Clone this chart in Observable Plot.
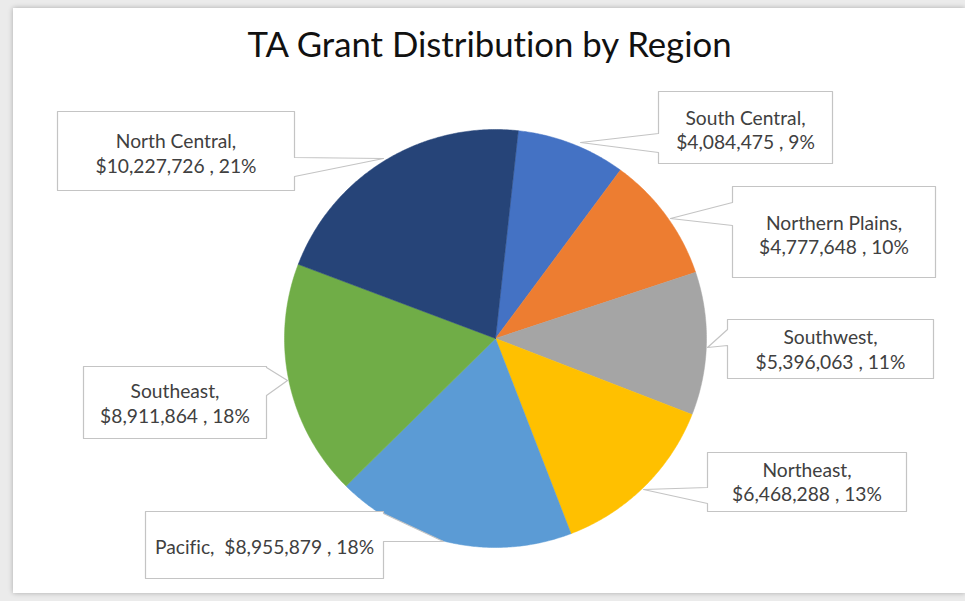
<!DOCTYPE html>
<html>
<head>
<meta charset="utf-8">
<script src="https://cdn.jsdelivr.net/npm/d3@7"></script>
<script src="https://cdn.jsdelivr.net/npm/@observablehq/plot@0.6"></script>
<style>
html, body { margin: 0; padding: 0; width: 965px; height: 601px; overflow: hidden; background: #ebebeb; font-family: Lato, "Open Sans", sans-serif; font-variant-ligatures: none; }
#card { position: absolute; left: 13px; top: 8px; width: 952px; height: 585px; background: #fff; box-shadow: 0 0 5px rgba(0,0,0,0.28); }
#title { position: absolute; left: 0; width: 979px; text-align: center; color: #111; font-family: Lato, sans-serif; white-space: nowrap; font-variant-ligatures: none; }
#chart { position: absolute; left: 0; top: 80px; }
#chart text { font-variant-ligatures: none; }
</style>
</head>
<body>
<div id="card"></div>
<div id="title"></div>
<div id="chart"></div>
<script>
// ---- data ----
const regions  = ["South Central", "Northern Plains", "Southwest", "Northeast", "Pacific", "Southeast", "North Central"];
const grants   = [4084475, 4777648, 5396063, 6468288, 8955879, 8911864, 10227726];
const percents = [9, 10, 11, 13, 18, 18, 21];
const colors   = ["#4472C4", "#ED7D31", "#A5A5A5", "#FFC000", "#5B9BD5", "#70AD47", "#264478"];
const chartTitle = "TA Grant Distribution by Region";

// ---- layout (page pixel coordinates) ----
const pie = {cx: 495, cy: 338, rx: 211, ry: 209, startDeg: 6.2};
const callouts = {
  "South Central":   {box: [658, 832, 91, 163],  side: "left",  base: [133, 152], tip: [580, 142], lines: [124.5, 148]},
  "Northern Plains": {box: [732, 935, 186, 277], side: "left",  base: [202, 225], tip: [670, 218], lines: [229, 253]},
  "Southwest":       {box: [727, 933, 319, 378], side: "left",  base: [329, 345], tip: [707, 347], lines: [343, 368]},
  "Northeast":       {box: [707, 906, 452, 511], side: "left",  base: [487, 503], tip: [643, 489], lines: [476, 500]},
  "Pacific":         {box: [145, 383, 511, 578], side: "right", base: [513, 541], tip: [443, 541], lines: [553]},
  "Southeast":       {box: [83, 266, 366, 438],  side: "right", base: [367, 395], tip: [287, 380], lines: [397, 422]},
  "North Central":   {box: [57, 294, 111, 190],  side: "right", base: [157, 176], tip: [383, 158], lines: [147, 172]}
};
const SVG_TOP = 80, W = 965, H = 601;

// ---- font fitting ----
const ctx = document.createElement("canvas").getContext("2d");
function fitSize(text, family, target) {
  ctx.font = `100px ${family}`;
  return 100 * target / ctx.measureText(text).width;
}
const fmt = d3.format("$,");
const labelFont = fitSize(fmt(grants[6]) + " , " + percents[6] + "%", "Lato", 161);
const titleFont = fitSize(chartTitle, "Lato", 487);

const titleEl = document.getElementById("title");
titleEl.textContent = chartTitle;
titleEl.style.fontSize = titleFont + "px";
titleEl.style.lineHeight = titleFont + "px";
titleEl.style.top = (58 - 0.887 * titleFont) + "px";

// ---- pie geometry from values ----
const total = d3.sum(grants);
const slices = [];
let acc = 0;
regions.forEach((r, i) => {
  const a0 = (pie.startDeg + 360 * acc / total) * Math.PI / 180;
  acc += grants[i];
  const a1 = (pie.startDeg + 360 * acc / total) * Math.PI / 180;
  const n = Math.max(2, Math.ceil((a1 - a0) / (Math.PI / 360)));
  slices.push({region: r, x: pie.cx, y: pie.cy});
  for (let k = 0; k <= n; k++) {
    const a = a0 + (a1 - a0) * k / n;
    slices.push({region: r, x: pie.cx + pie.rx * Math.sin(a), y: pie.cy - pie.ry * Math.cos(a)});
  }
  slices.push({region: r, x: pie.cx, y: pie.cy});
});

// ---- callout outlines ----
const outlines = [];
regions.forEach(r => {
  const c = callouts[r];
  const [x1, x2, y1, y2] = c.box;
  const pts = [[x1, y1], [x2, y1]];
  if (c.side === "right") pts.push([x2, c.base[0]], c.tip, [x2, c.base[1]]);
  pts.push([x2, y2], [x1, y2]);
  if (c.side === "left") pts.push([x1, c.base[1]], c.tip, [x1, c.base[0]]);
  pts.push([x1, y1]);
  pts.forEach(([x, y]) => outlines.push({region: r, x, y}));
});

// ---- label texts ----
const texts = [];
regions.forEach((r, i) => {
  const c = callouts[r];
  const cx = (c.box[0] + c.box[1]) / 2;
  const line2 = fmt(grants[i]) + " , " + percents[i] + "%";
  if (c.lines.length === 1) {
    texts.push({x: cx, y: c.lines[0], text: r + ",  " + line2});
  } else {
    texts.push({x: cx, y: c.lines[0], text: r + ","});
    texts.push({x: cx, y: c.lines[1], text: line2});
  }
});

const chart = Plot.plot({
  width: W,
  height: H - SVG_TOP,
  margin: 0,
  style: {background: "transparent", fontFamily: "Lato, sans-serif"},
  x: {domain: [0, W], range: [0, W], axis: null},
  y: {domain: [SVG_TOP, H], range: [0, H - SVG_TOP], axis: null},
  color: {domain: regions, range: colors},
  marks: [
    Plot.line(slices, {x: "x", y: "y", z: "region", fill: "region", stroke: "region", strokeWidth: 0.5, curve: "linear"}),
    Plot.line(outlines, {x: "x", y: "y", z: "region", fill: "white", stroke: "#c4c4c4", strokeWidth: 1.2, curve: "linear"}),
    Plot.text(texts, {x: "x", y: "y", text: "text", fill: "#404040", fontSize: labelFont, lineAnchor: "bottom", textAnchor: "middle", fontFamily: "Lato, sans-serif"})
  ]
});
document.getElementById("chart").appendChild(chart);
</script>
</body>
</html>
